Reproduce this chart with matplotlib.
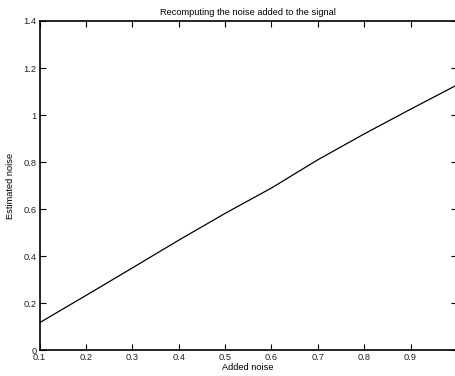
import matplotlib
matplotlib.use("Agg")
import matplotlib.pyplot as plt

added_noise = [0.1, 0.2, 0.3, 0.4, 0.5, 0.6, 0.7, 0.8, 0.9, 1.0]
estimated_noise = [0.117, 0.233, 0.350, 0.468, 0.582, 0.690, 0.810, 0.920, 1.025, 1.128]
xticks = [0.1, 0.2, 0.3, 0.4, 0.5, 0.6, 0.7, 0.8, 0.9, 1.0]
xticklabels = ["0.1", "0.2", "0.3", "0.4", "0.5", "0.6", "0.7", "0.8", "0.9", "1"]
yticks = [0, 0.2, 0.4, 0.6, 0.8, 1.0, 1.2, 1.4]
yticklabels = ["0", "0.2", "0.4", "0.6", "0.8", "1", "1.2", "1.4"]

plt.rcParams['font.family'] = ['Liberation Sans', 'DejaVu Sans']

fig = plt.figure(figsize=(4.56, 3.76), dpi=100)
ax = fig.add_axes([39.5/456, 25.7/376, (457-39.5)/456, (350.3-21)/376])
ax.plot(added_noise, estimated_noise, color='black', linewidth=0.9)
ax.set_xlim(0.1, 1.0)
ax.set_ylim(0, 1.4)
ax.set_xticks(xticks)
ax.set_xticklabels(xticklabels)
ax.set_yticks(yticks)
ax.set_yticklabels(yticklabels)
ax.tick_params(direction='in', length=4, width=0.8, labelsize=6.7, pad=2,
               top=True, right=True, colors='black', labelcolor='#222222')
for s in ax.spines.values():
    s.set_linewidth(1.2)
ax.set_title("Recomputing the noise added to the signal", fontsize=6.7, pad=4)
ax.set_xlabel("Added noise", fontsize=6.7, labelpad=1)
ax.set_ylabel("Estimated noise", fontsize=6.7, labelpad=6)
fig.savefig("out.png", dpi=100)
